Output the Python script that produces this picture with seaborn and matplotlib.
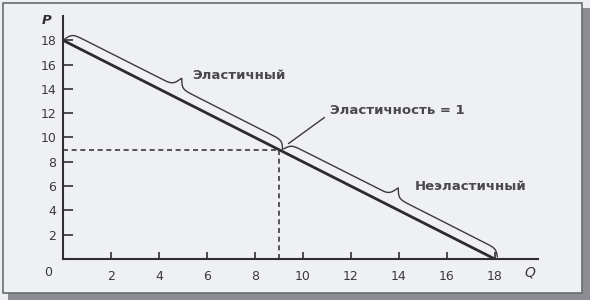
import numpy as np
import pandas as pd
import matplotlib
matplotlib.use("Agg")
import matplotlib.pyplot as plt
from matplotlib.patches import Rectangle
import seaborn as sns

# ---- data ----
demand_q = [0, 18]
demand_p = [18, 0]
unit_q = 9
unit_p = 9
x_ticks = [2, 4, 6, 8, 10, 12, 14, 16, 18]
y_ticks = [2, 4, 6, 8, 10, 12, 14, 16, 18]
elastic_label = "Эластичный"
inelastic_label = "Неэластичный"
unit_label = "Эластичность = 1"

sns.set_theme(style="ticks")
plt.rcParams['font.family'] = ['DejaVu Sans']

W, H = 590, 300
fig = plt.figure(figsize=(W / 100, H / 100), dpi=100)
fig.patch.set_facecolor('#eceef2')

def fig_rect(x0, y0, x1, y1, **kw):
    # pixel coords, y from top
    r = Rectangle((x0 / W, 1 - y1 / H), (x1 - x0) / W, (y1 - y0) / H,
                  transform=fig.transFigure, **kw)
    fig.patches.append(r)

fig_rect(8, 8, 590, 300, facecolor='#8c8d92', edgecolor='none', zorder=0)
fig_rect(3, 3, 582, 293, facecolor='#eff0f4', edgecolor='#6a6b70', lw=1.2, zorder=1)

ax = fig.add_axes([63 / W, 1 - 259 / H, (538 - 63) / W, (259 - 16) / H])
ax.set_facecolor('none')
ax.set_zorder(2)
ax.set_xlim(0, 19.8)
ax.set_ylim(0, 20)

df = pd.DataFrame({"Q": demand_q, "P": demand_p})
sns.lineplot(data=df, x="Q", y="P", ax=ax, color='#2b2b2e', lw=2.0)

# dashed guides to unit-elastic point
ax.plot([0, unit_q], [unit_p, unit_p], color='#3a3a3e', lw=1.2, ls=(0, (3, 2.2)))
ax.plot([unit_q, unit_q], [0, unit_p], color='#3a3a3e', lw=1.2, ls=(0, (3, 2.2)))

def brace(q0, p0, q1, p1, a=10.0, b=10.0, c=2.0, r=5.0, r2=2.5):
    P0 = ax.transData.transform((q0, p0))
    P1 = ax.transData.transform((q1, p1))
    d = P1 - P0
    L = np.hypot(*d)
    t = d / L
    n = np.array([-t[1], t[0]])
    u = np.linspace(0, L, 600)
    uu = np.minimum(u, L - u)
    v = c + (a - c) * np.tanh(uu / r) + 2 * b / (1 + np.exp(-(uu - L / 2) / r2))
    pts = P0[None, :] + u[:, None] * t[None, :] + v[:, None] * n[None, :]
    dpts = ax.transData.inverted().transform(pts)
    ax.plot(dpts[:, 0], dpts[:, 1], color='#3a3a3e', lw=1.0)

brace(0.0, 18.0, 9.15, 8.85, c=0.0)
brace(9.15, 8.85, 18.05, -0.05, c=3.0)

# leader for unit elasticity
ax.plot([9.4, 10.9], [9.5, 11.65], color='#3a3a3e', lw=1.0)

txt_kw = dict(fontsize=9.5, color='#4a4a4e', fontweight='semibold', va='center')
ax.text(5.4, 15.1, elastic_label, ha='left', **txt_kw)
ax.text(11.15, 12.25, unit_label, ha='left', **txt_kw)
ax.text(14.65, 5.95, inelastic_label, ha='left', **txt_kw)

# axes styling
for s in ['top', 'right']:
    ax.spines[s].set_visible(False)
for s in ['left', 'bottom']:
    ax.spines[s].set_color('#2f2f33')
    ax.spines[s].set_linewidth(1.5)
ax.set_xticks(x_ticks)
ax.set_yticks(y_ticks)
ax.set_xticklabels([str(v) for v in x_ticks])
ax.set_yticklabels([str(v) for v in y_ticks])
ax.tick_params(axis='x', direction='in', length=5, width=1.2, color='#2f2f33',
               labelsize=9, labelcolor='#3a3a3e', pad=8)
ax.tick_params(axis='y', direction='in', length=7, width=1.2, color='#2f2f33',
               labelsize=9, labelcolor='#3a3a3e', pad=5)
ax.set_xlabel('')
ax.set_ylabel('')

# corner zero, axis names
ax.annotate('0', xy=(0, 0), xytext=(-15, -13), textcoords='offset pixels',
            ha='center', va='center', fontsize=9, color='#3a3a3e')
fig.text(47 / W, 1 - 20 / H, 'P', fontsize=9.5, fontstyle='italic',
         fontweight='bold', color='#2f2f33', ha='center', va='center')
fig.text(530 / W, 1 - 272 / H, 'Q', fontsize=10, fontstyle='italic',
         color='#3a3a3e', ha='center', va='center')

fig.savefig('out.png', dpi=100, facecolor=fig.get_facecolor())
